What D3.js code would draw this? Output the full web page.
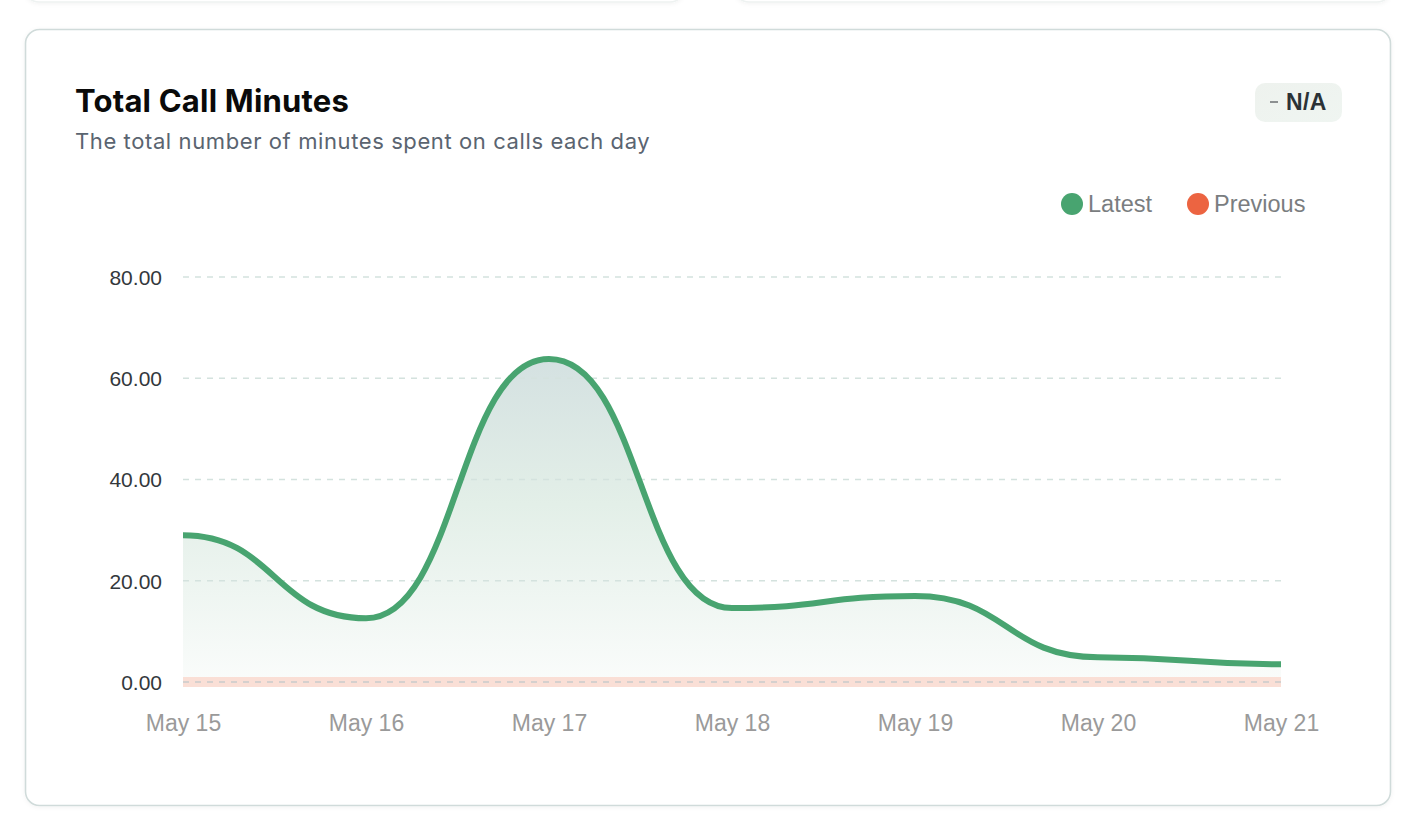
<!DOCTYPE html>
<html>
<head>
<meta charset="utf-8">
<script src="https://cdn.jsdelivr.net/npm/d3@7"></script>
<style>
  html, body { margin: 0; padding: 0; background: #ffffff; }
  svg { display: block; }
</style>
</head>
<body>
<svg id="chart" width="1417" height="831"></svg>
<script>
const categories = ["May 15", "May 16", "May 17", "May 18", "May 19", "May 20", "May 21"];
const latestValues = [29.0, 12.6, 63.8, 14.6, 17.0, 4.9, 3.5];
const previousValues = [0, 0, 0, 0, 0, 0, 0];
const yTicks = [0, 20, 40, 60, 80];
const legendLabels = ["Latest", "Previous"];
const titleText = "Total Call Minutes";
const subtitleText = "The total number of minutes spent on calls each day";
const badgeText = "N/A";

const svg = d3.select("#chart");
const green = "#48a470", orange = "#ec6441";

const defs = svg.append("defs");
const grad = defs.append("linearGradient").attr("id", "areaGrad")
  .attr("x1", 0).attr("y1", 0).attr("x2", 0).attr("y2", 1);
grad.append("stop").attr("offset", "0%").attr("stop-color", "#d4e1e1");
grad.append("stop").attr("offset", "45%").attr("stop-color", "#e3efe8");
grad.append("stop").attr("offset", "100%").attr("stop-color", "#fafcfb");
const badgeGrad = defs.append("linearGradient").attr("id", "badgeGrad")
  .attr("x1", 0).attr("y1", 0).attr("x2", 1).attr("y2", 1);
badgeGrad.append("stop").attr("offset", "0%").attr("stop-color", "#eef2ee");
badgeGrad.append("stop").attr("offset", "100%").attr("stop-color", "#eff5f1");
const shadow = defs.append("filter").attr("id", "shadow").attr("x", "-5%").attr("y", "-5%").attr("width", "110%").attr("height", "110%");
shadow.append("feDropShadow").attr("dx", 0).attr("dy", 1).attr("stdDeviation", 2).attr("flood-color", "#000").attr("flood-opacity", 0.05);

// cards above (partially visible)
svg.append("rect").attr("x", 25).attr("y", -100).attr("width", 659).attr("height", 102).attr("rx", 14)
  .attr("fill", "#fff").attr("stroke", "#eef2f1").attr("stroke-width", 1.5).attr("filter", "url(#shadow)");
svg.append("rect").attr("x", 735).attr("y", -100).attr("width", 656).attr("height", 102).attr("rx", 14)
  .attr("fill", "#fff").attr("stroke", "#eef2f1").attr("stroke-width", 1.5).attr("filter", "url(#shadow)");

// main card
svg.append("rect").attr("x", 25.5).attr("y", 29.5).attr("width", 1365).attr("height", 776).attr("rx", 14)
  .attr("fill", "#fff").attr("stroke", "#d0dbda").attr("stroke-width", 1.6).attr("filter", "url(#shadow)");

// title
svg.append("text").attr("x", 75).attr("y", 112).text(titleText)
  .attr("font-family", "Inter, 'Noto Sans', sans-serif").attr("font-weight", 700)
  .attr("font-size", 31).attr("fill", "#0a0a0a").attr("letter-spacing", 0.2);
svg.append("text").attr("x", 75).attr("y", 149).text(subtitleText)
  .attr("font-family", "Inter, 'Noto Sans', sans-serif").attr("font-weight", 400)
  .attr("font-size", 22).attr("fill", "#5a6470").attr("letter-spacing", 0.6);

// badge
svg.append("rect").attr("x", 1255).attr("y", 83).attr("width", 87).attr("height", 39).attr("rx", 10)
  .attr("fill", "url(#badgeGrad)");
svg.append("line").attr("x1", 1270).attr("x2", 1278).attr("y1", 102).attr("y2", 102)
  .attr("stroke", "#6b6f72").attr("stroke-width", 1.5);
svg.append("text").attr("x", 1286).attr("y", 110).text(badgeText)
  .attr("font-family", "'Liberation Sans', Arial, sans-serif").attr("font-weight", 700)
  .attr("font-size", 23).attr("fill", "#2b3236").attr("letter-spacing", 0.4);

// legend
const legendColors = [green, orange];
const legendX = [1072, 1198];
legendLabels.forEach((lab, i) => {
  svg.append("circle").attr("cx", legendX[i]).attr("cy", 204).attr("r", 11).attr("fill", legendColors[i]);
  svg.append("text").attr("x", legendX[i] + 16).attr("y", 212).text(lab)
    .attr("font-family", "'Liberation Sans', Arial, sans-serif").attr("font-size", 23.5)
    .attr("fill", "#7a7d80");
});

// scales
const x = d3.scalePoint().domain(categories).range([183, 1281]);
const y = d3.scaleLinear().domain([0, 80]).range([682, 277]);

const latest = categories.map((c, i) => ({ c, v: latestValues[i] }));
const previous = categories.map((c, i) => ({ c, v: previousValues[i] }));

// area
const area = d3.area().x(d => x(d.c)).y0(y(0)).y1(d => y(d.v)).curve(d3.curveBumpX);
svg.append("path").datum(latest).attr("d", area).attr("fill", "url(#areaGrad)");

// previous band
const line = d3.line().x(d => x(d.c)).y(d => y(d.v)).curve(d3.curveBumpX);
svg.append("path").datum(previous).attr("d", line).attr("fill", "none")
  .attr("stroke", "#fadfd6").attr("stroke-width", 10);

// grid
const grid = svg.append("g");
grid.selectAll("line").data(yTicks).join("line")
  .attr("x1", 183).attr("x2", 1281)
  .attr("y1", d => y(d)).attr("y2", d => y(d))
  .attr("stroke", d => d === 0 ? "#c9cccb" : "#d4e2de").attr("stroke-width", 1.5)
  .attr("stroke-dasharray", "6,6");

// y axis labels
const yAxis = svg.append("g").attr("transform", "translate(162,0)")
  .call(d3.axisLeft(y).tickValues(yTicks).tickFormat(d3.format(".2f")).tickSize(0).tickPadding(0));
yAxis.select(".domain").remove();
yAxis.selectAll("text").attr("font-family", "'Liberation Sans', Arial, sans-serif")
  .attr("font-size", 21).attr("fill", "#33383c").attr("dy", "0.35em");

// x axis labels
const xAxis = svg.append("g").attr("transform", "translate(0,731)")
  .call(d3.axisBottom(x).tickSize(0).tickPadding(0));
xAxis.select(".domain").remove();
xAxis.selectAll("text").attr("font-family", "'Liberation Sans', Arial, sans-serif")
  .attr("font-size", 23).attr("fill", "#9a9a9a").attr("y", 0).attr("dy", 0);

// latest line
svg.append("path").datum(latest).attr("d", line).attr("fill", "none")
  .attr("stroke", green).attr("stroke-width", 6).attr("stroke-linejoin", "round");
</script>
</body>
</html>
